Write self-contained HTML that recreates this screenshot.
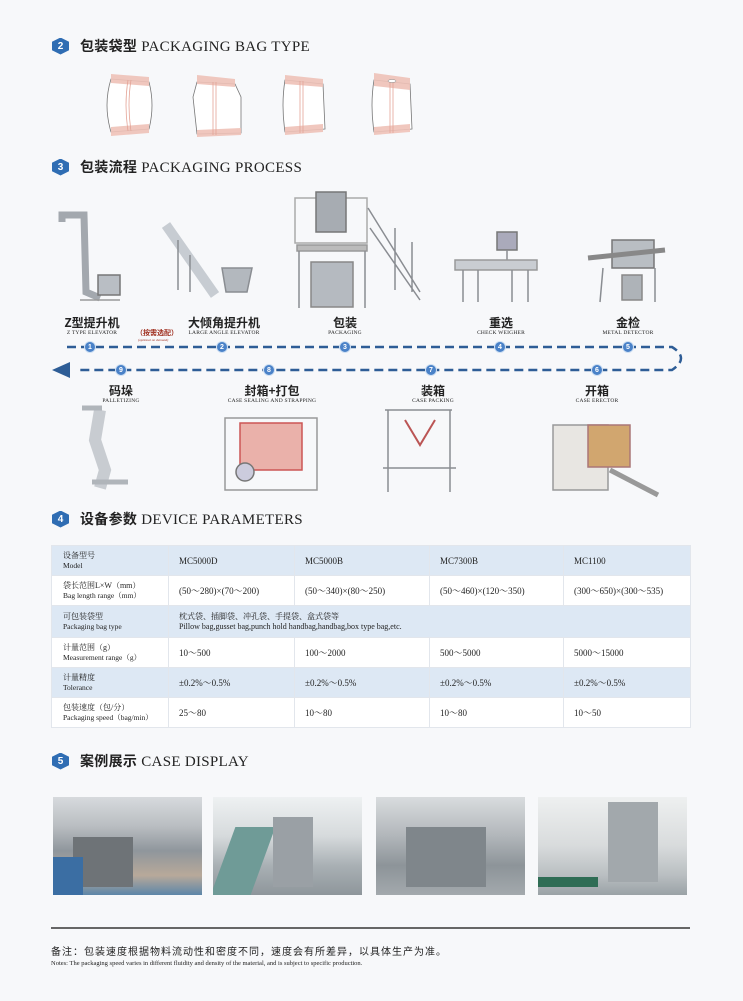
<!DOCTYPE html>
<html><head><meta charset="utf-8">
<style>
*{margin:0;padding:0;box-sizing:border-box}
body{width:743px;height:1001px;background:#f7f8fa;position:relative;overflow:hidden;font-family:"Liberation Serif","Noto Serif CJK SC",serif;color:#222}
.abs{position:absolute}
.hd{position:absolute;left:52px;height:18px;display:flex;align-items:center}
.hd .b{width:17px;height:17px;background:#2f6db3;color:#fff;font:bold 10px "Liberation Sans",sans-serif;display:flex;align-items:center;justify-content:center;clip-path:polygon(50% 0,100% 25%,100% 75%,50% 100%,0 75%,0 25%);margin-right:11px}
.hd .t{font-size:15px;letter-spacing:0.3px;white-space:nowrap}
.hd .t b{font-family:"Noto Sans CJK SC",sans-serif;font-weight:bold;font-size:14px}
.lb{position:absolute;text-align:center;width:140px;transform:translateX(-70px)}
.lb .c{font:bold 12px "Noto Sans CJK SC",sans-serif;line-height:14px}
.lb .e{font-size:5.5px;line-height:7px;letter-spacing:0.2px}
.cir{position:absolute;width:12px;height:12px;border-radius:50%;background:#4a82c8;border:1.5px solid #cfe0f3;color:#fff;font:bold 7px "Liberation Sans",sans-serif;display:flex;align-items:center;justify-content:center;transform:translate(-6px,-6px)}
table{position:absolute;left:51px;top:545px;width:640px;border-collapse:collapse;font-size:9px}
td{border:1px solid #e2e6ec;padding:0 0 0 10px;vertical-align:middle;line-height:10px}
td:first-child{padding-left:11px;font-size:8px;width:117px}
td small{font-size:7.5px}
tr.s td{background:#dde8f4}
tr.w td{background:#fff}
.ph{position:absolute;top:797px;height:98px;width:149px;overflow:hidden}
</style></head><body>

<div class="hd" style="top:37px"><div class="b">2</div><div class="t"><b>包装袋型</b> PACKAGING BAG TYPE</div></div>
<div class="hd" style="top:158px"><div class="b">3</div><div class="t"><b>包装流程</b> PACKAGING PROCESS</div></div>
<div class="hd" style="top:510px"><div class="b">4</div><div class="t"><b>设备参数</b> DEVICE PARAMETERS</div></div>
<div class="hd" style="top:752px"><div class="b">5</div><div class="t"><b>案例展示</b> CASE DISPLAY</div></div>

<!-- bags -->
<svg class="abs" style="left:0;top:0" width="743" height="150">
<g fill="#fff" stroke="#777" stroke-width="0.8">
<path d="M111,79 L149,82 Q155,105 149,129 L111,132 Q103,105 111,79Z"/>
<path d="M197,82 L235,84 L241,97 L241,133 L197,134 L193,97Z"/>
<path d="M285,80 L323,84 L325,129 L285,132 Q281,105 285,80Z"/>
<path d="M374,80 L410,84 L412,129 L374,132 Q370,105 374,80Z"/>
</g>
<g fill="#efc2b8" opacity="0.9">
<path d="M111,74 L149,77 L149,86 L111,83Z"/><path d="M111,127 L149,124 L149,133 L111,136Z"/>
<path d="M197,75 L235,79 L235,87 L197,84Z"/><path d="M197,130 L241,128 L241,135 L197,137Z"/>
<path d="M285,75 L323,79 L323,87 L285,84Z"/><path d="M285,127 L323,124 L323,132 L285,135Z"/>
<path d="M374,73 L410,78 L410,90 L374,86Z"/><path d="M374,127 L410,124 L410,132 L374,135Z"/>
</g>
<g stroke="#e4a497" stroke-width="0.8" fill="none">
<path d="M128,80 Q124,105 128,131 M131,80 Q127,105 131,131"/>
<path d="M213,82 L213,135 M216,82 L216,135"/>
<path d="M300,81 L300,133 M303,81 L303,133"/>
<path d="M390,82 L390,133 M393,82 L393,133"/>
</g>
<ellipse cx="392" cy="81" rx="4" ry="1.5" fill="#fff" stroke="#888" stroke-width="0.5"/>
</svg>

<!-- machines top & bottom -->
<svg class="abs" style="left:0;top:0" width="743" height="500" fill="none" stroke="#8a8d92" stroke-width="1.5">
<!-- Z elevator -->
<path d="M62,222 L62,215 L84,215 L86,292 L100,298" stroke="#a3a8ae" stroke-width="7"/>
<rect x="98" y="275" width="22" height="20" fill="#b9bec4" stroke="#777"/>
<path d="M80,300 L120,300" stroke="#999"/>
<!-- incline -->
<path d="M166,225 L215,295" stroke="#c7ccd2" stroke-width="10"/>
<path d="M178,240 L178,290 M190,255 L190,292" />
<path d="M222,268 L252,268 L247,292 L226,292Z" fill="#b3b8be"/>
<!-- packaging tower -->
<rect x="295" y="198" width="72" height="45" stroke="#aaa"/>
<rect x="316" y="192" width="30" height="40" fill="#a7acb2" stroke="#777"/>
<rect x="297" y="245" width="70" height="6" fill="#bbb" stroke="#999"/>
<rect x="311" y="262" width="42" height="45" fill="#b5bac0" stroke="#888"/>
<path d="M299,251 L299,308 M365,251 L365,308"/>
<path d="M368,208 L420,292 M370,228 L420,300 M395,228 L395,290 M412,242 L412,292"/>
<!-- check weigher -->
<rect x="497" y="232" width="20" height="18" fill="#aab" stroke="#777"/>
<path d="M507,250 L507,260" />
<rect x="455" y="260" width="82" height="10" fill="#c9cdd2" stroke="#999"/>
<path d="M463,270 L463,302 M478,270 L478,302 M512,270 L512,302 M528,270 L528,302"/>
<!-- metal detector -->
<rect x="612" y="240" width="42" height="28" fill="#b9bec3" stroke="#777"/>
<path d="M588,258 L665,250" stroke="#888" stroke-width="5"/>
<rect x="622" y="275" width="20" height="25" fill="#aeb3b8" stroke="#888"/>
<path d="M603,268 L600,302 M655,268 L655,302"/>
<!-- bottom row -->
<path d="M100,410 L95,440 L105,470 L100,488" stroke="#c8ccd1" stroke-width="12"/>
<path d="M82,408 L102,408 M92,482 L128,482" stroke="#b0b5ba" stroke-width="5"/>
<rect x="225" y="418" width="92" height="72" stroke="#999"/>
<path d="M240,423 L302,423 L302,470 L240,470Z" fill="#eab1aa" stroke="#c55"/>
<circle cx="245" cy="472" r="9" fill="#ccd" stroke="#777"/>
<path d="M385,410 L452,410 M388,410 L388,492 M450,410 L450,492 M383,468 L456,468"/>
<path d="M405,420 L420,445 L435,420" stroke="#b55" stroke-width="2"/>
<rect x="553" y="425" width="55" height="65" fill="#e8e6e2" stroke="#999"/>
<rect x="588" y="425" width="42" height="42" fill="#d1a66f" stroke="#a77"/>
<path d="M610,470 L658,495" stroke="#999" stroke-width="5"/>
</svg>

<!-- flow line -->
<svg class="abs" style="left:0;top:335px" width="743" height="50">
<path d="M67,12 L672,12 Q690,23 672,35 L76,35" stroke="#2e5d96" stroke-width="2.5" stroke-dasharray="9,5" fill="none"/>
<path d="M52,35 L70,27 L70,43Z" fill="#2e5d96"/>
</svg>
<div class="cir" style="left:90px;top:347px">1</div>
<div class="cir" style="left:222px;top:347px">2</div>
<div class="cir" style="left:345px;top:347px">3</div>
<div class="cir" style="left:500px;top:347px">4</div>
<div class="cir" style="left:628px;top:347px">5</div>
<div class="cir" style="left:597px;top:370px">6</div>
<div class="cir" style="left:431px;top:370px">7</div>
<div class="cir" style="left:269px;top:370px">8</div>
<div class="cir" style="left:121px;top:370px">9</div>

<div class="lb" style="left:92px;top:316px"><div class="c">Z型提升机</div><div class="e">Z TYPE ELEVATOR</div></div>
<div class="abs" style="left:136px;top:328px;font:bold 7px 'Noto Sans CJK SC',sans-serif;color:#a03020">（按需选配）</div>
<div class="abs" style="left:138px;top:338px;font-size:3.5px;color:#a03020;font-style:italic">(optional on demand)</div>
<div class="lb" style="left:224px;top:316px"><div class="c">大倾角提升机</div><div class="e">LARGE ANGLE ELEVATOR</div></div>
<div class="lb" style="left:345px;top:316px"><div class="c">包装</div><div class="e">PACKAGING</div></div>
<div class="lb" style="left:501px;top:316px"><div class="c">重选</div><div class="e">CHECK WEIGHER</div></div>
<div class="lb" style="left:628px;top:316px"><div class="c">金检</div><div class="e">METAL DETECTOR</div></div>
<div class="lb" style="left:121px;top:384px"><div class="c">码垛</div><div class="e">PALLETIZING</div></div>
<div class="lb" style="left:272px;top:384px"><div class="c">封箱+打包</div><div class="e">CASE SEALING AND STRAPPING</div></div>
<div class="lb" style="left:433px;top:384px"><div class="c">装箱</div><div class="e">CASE PACKING</div></div>
<div class="lb" style="left:597px;top:384px"><div class="c">开箱</div><div class="e">CASE ERECTOR</div></div>

<table>
<tr class="s" style="height:30px"><td>设备型号<br><small>Model</small></td><td style="width:126px">MC5000D</td><td style="width:135px">MC5000B</td><td style="width:134px">MC7300B</td><td>MC1100</td></tr>
<tr class="w" style="height:30px"><td>袋长范围L×W（mm）<br><small>Bag length range（mm）</small></td><td>(50～280)×(70～200)</td><td>(50～340)×(80～250)</td><td>(50～460)×(120～350)</td><td>(300～650)×(300～535)</td></tr>
<tr class="s" style="height:32px"><td>可包装袋型<br><small>Packaging bag type</small></td><td colspan="4" style="font-size:8px">枕式袋、插脚袋、冲孔袋、手提袋、盒式袋等<br>Pillow bag,gusset bag,punch hold handbag,handbag,box type bag,etc.</td></tr>
<tr class="w" style="height:30px"><td>计量范围（g）<br><small>Measurement range（g）</small></td><td>10～500</td><td>100～2000</td><td>500～5000</td><td>5000～15000</td></tr>
<tr class="s" style="height:30px"><td>计量精度<br><small>Tolerance</small></td><td>±0.2%～0.5%</td><td>±0.2%～0.5%</td><td>±0.2%～0.5%</td><td>±0.2%～0.5%</td></tr>
<tr class="w" style="height:30px"><td>包装速度（包/分）<br><small>Packaging speed（bag/min）</small></td><td>25～80</td><td>10～80</td><td>10～80</td><td>10～50</td></tr>
</table>

<div class="ph" style="left:53px;background:linear-gradient(180deg,#d7dadd 0,#b9bdc1 30%,#8f969c 55%,#b8a99a 80%,#5d86a8 100%)"><div class="abs" style="left:20px;top:40px;width:60px;height:50px;background:#6e7377"></div><div class="abs" style="left:0;top:60px;width:30px;height:38px;background:#3b6ea3"></div></div>
<div class="ph" style="left:213px;background:linear-gradient(180deg,#eef1f2 0,#d6dadc 40%,#a9b0b4 70%,#8e969b 100%)"><div class="abs" style="left:10px;top:30px;width:40px;height:68px;background:#6f9b97;transform:skewX(-20deg)"></div><div class="abs" style="left:60px;top:20px;width:40px;height:70px;background:#9aa0a5"></div></div>
<div class="ph" style="left:376px;background:linear-gradient(180deg,#d9dcde 0,#b1b6ba 40%,#8d9499 70%,#a3a9ad 100%)"><div class="abs" style="left:30px;top:30px;width:80px;height:60px;background:#7f868b"></div></div>
<div class="ph" style="left:538px;background:linear-gradient(180deg,#eef0f0 0,#d8dbdc 50%,#b9bec1 80%,#9aa2a6 100%)"><div class="abs" style="left:70px;top:5px;width:50px;height:80px;background:#a2a8ac"></div><div class="abs" style="left:0;top:80px;width:60px;height:10px;background:#2f6d55"></div></div>

<div class="abs" style="left:51px;top:927px;width:639px;height:2px;background:#666"></div>
<div class="abs" style="left:51px;top:943px;font:10px 'Noto Sans CJK SC',sans-serif;letter-spacing:1px;white-space:nowrap">备注：包装速度根据物料流动性和密度不同，速度会有所差异，以具体生产为准。</div>
<div class="abs" style="left:51px;top:960px;font-size:6.5px;white-space:nowrap">Notes: The packaging speed varies in different fluidity and density of the material, and is subject to specific production.</div>
</body></html>
